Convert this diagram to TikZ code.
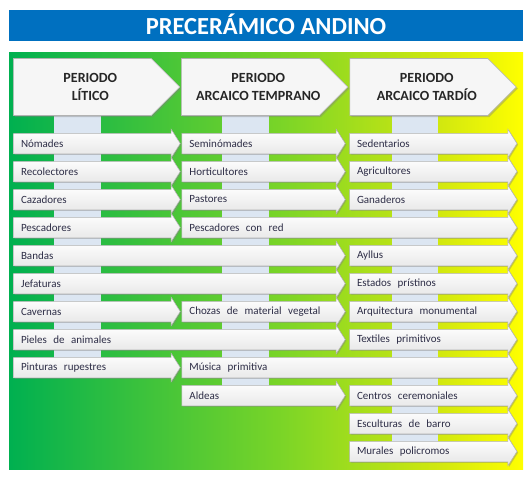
\documentclass[tikz,border=0pt]{standalone}
\usepackage{fontspec}
\setmainfont{Carlito}
\newfontfamily\itemfont[WordSpace=2.6]{Carlito}
\usetikzlibrary{positioning,shapes.arrows,shapes.symbols,shadows}

\definecolor{titleblue}{RGB}{0,112,192}
\definecolor{stripblue}{RGB}{220,230,242}
\definecolor{itemink}{RGB}{45,45,70}
\definecolor{panelgreen}{RGB}{0,176,80}
\definecolor{panellime}{RGB}{120,212,40}
\definecolor{panelchart}{RGB}{210,232,15}
\definecolor{panelyellow}{RGB}{255,255,0}
\pgfdeclarehorizontalshading{panelshade}{100bp}{color(0bp)=(panelgreen); color(25bp)=(panelgreen); color(51bp)=(panellime); color(67bp)=(panelchart); color(75bp)=(panelyellow); color(100bp)=(panelyellow)}

\begin{document}
\begin{tikzpicture}[x=1pt,y=-1pt,
    period/.style={signal,signal to=east,minimum width=166.5pt,minimum height=57pt,inner sep=0pt,
        anchor=west,fill=gray!7,draw=gray!60,line width=0.6pt,
        drop shadow={shadow xshift=1.5pt,shadow yshift=-1.5pt,opacity=0.4}},
    periodtext/.style={inner sep=0pt,align=center,text=black!85,font=\fontsize{14}{17.3}\selectfont\bfseries},
    itemarrow/.style={single arrow,single arrow head extend=4pt,single arrow tip angle=115,
        minimum width=28pt,inner xsep=0pt,inner ysep=10pt,anchor=tail,top color=white,bottom color=gray!20,
        draw=gray!60,line width=0.5pt,
        drop shadow={shadow xshift=1.2pt,shadow yshift=-1.2pt,opacity=0.4}},
    itemtext/.style={inner sep=0pt,text=itemink,font=\itemfont\fontsize{11}{13}\selectfont}]

        \useasboundingbox (0,0) rectangle (532,480);
        \fill[white] (0,0) rectangle (532,480);

        % Title bar
        \fill[titleblue] (9,9.5) rectangle (523,40.5);
        \node[inner sep=0pt,anchor=base,text=white,font=\fontsize{24.5}{28}\selectfont\bfseries] (title) at (266,34) {PRECERÁMICO ANDINO};

        % Gradient panel
        \shade[shading=panelshade] (9,52.5) rectangle (523,469.5);

        % Light strips behind the rows
        \fill[stripblue] (54,115) rectangle (100.5,367.5);
        \fill[stripblue] (222,115) rectangle (268.5,395.5);
        \fill[stripblue] (391.5,115) rectangle (438,451.5);

        % Periods
        \node[period] (litico) at (13,87) {};
        \node[periodtext] (liticoT) at ([xshift=8pt]litico.center) {PERIODO\\LÍTICO};
        \node[period] (temprano) at (181,87) {};
        \node[periodtext] (tempranoT) at ([xshift=8pt]temprano.center) {PERIODO\\ARCAICO TEMPRANO};
        \node[period] (tardio) at (349.5,87) {};
        \node[periodtext] (tardioT) at ([xshift=8pt]tardio.center) {PERIODO\\ARCAICO TARDÍO};

        % Row 1
        \node[itemarrow,minimum height=166.7pt] (nomades) at (13.3,143.5) {};
        \node[itemtext,right=7.5pt of nomades.tail] (nomadesT) {Nómades};
        \node[itemarrow,minimum height=163.3pt] (seminomades) at (181.7,143.5) {};
        \node[itemtext,right=7.5pt of seminomades.tail] (seminomadesT) {Seminómades};
        \node[itemarrow,minimum height=167.4pt] (sedentarios) at (349.3,143.5) {};
        \node[itemtext,right=7.5pt of sedentarios.tail] (sedentariosT) {Sedentarios};

        % Row 2
        \node[itemarrow,minimum height=166.7pt] (recolectores) at (13.3,171.5) {};
        \node[itemtext,right=7.5pt of recolectores.tail] (recolectoresT) {Recolectores};
        \node[itemarrow,minimum height=163.3pt] (horticultores) at (181.7,171.5) {};
        \node[itemtext,right=7.5pt of horticultores.tail] (horticultoresT) {Horticultores};
        \node[itemarrow,minimum height=167.4pt] (agricultores) at (349.3,171.5) {};
        \node[itemtext,right=7.5pt of agricultores.tail] (agricultoresT) {Agricultores};

        % Row 3
        \node[itemarrow,minimum height=166.7pt] (cazadores) at (13.3,199.5) {};
        \node[itemtext,right=7.5pt of cazadores.tail] (cazadoresT) {Cazadores};
        \node[itemarrow,minimum height=163.3pt] (pastores) at (181.7,199.5) {};
        \node[itemtext,right=7.5pt of pastores.tail] (pastoresT) {Pastores};
        \node[itemarrow,minimum height=167.4pt] (ganaderos) at (349.3,199.5) {};
        \node[itemtext,right=7.5pt of ganaderos.tail] (ganaderosT) {Ganaderos};

        % Row 4
        \node[itemarrow,minimum height=166.7pt] (pescadores) at (13.3,227.5) {};
        \node[itemtext,right=7.5pt of pescadores.tail] (pescadoresT) {Pescadores};
        \node[itemarrow,minimum height=335pt] (pescadoresred) at (181.7,227.5) {};
        \node[itemtext,right=7.5pt of pescadoresred.tail] (pescadoresredT) {Pescadores con red};

        % Row 5
        \node[itemarrow,minimum height=331.7pt] (bandas) at (13.3,255.5) {};
        \node[itemtext,right=7.5pt of bandas.tail] (bandasT) {Bandas};
        \node[itemarrow,minimum height=167.4pt] (ayllus) at (349.3,255.5) {};
        \node[itemtext,right=7.5pt of ayllus.tail] (ayllusT) {Ayllus};

        % Row 6
        \node[itemarrow,minimum height=331.7pt] (jefaturas) at (13.3,283.5) {};
        \node[itemtext,right=7.5pt of jefaturas.tail] (jefaturasT) {Jefaturas};
        \node[itemarrow,minimum height=167.4pt] (estados) at (349.3,283.5) {};
        \node[itemtext,right=7.5pt of estados.tail] (estadosT) {Estados prístinos};

        % Row 7
        \node[itemarrow,minimum height=166.7pt] (cavernas) at (13.3,311.5) {};
        \node[itemtext,right=7.5pt of cavernas.tail] (cavernasT) {Cavernas};
        \node[itemarrow,minimum height=163.3pt] (chozas) at (181.7,311.5) {};
        \node[itemtext,right=7.5pt of chozas.tail] (chozasT) {Chozas de material vegetal};
        \node[itemarrow,minimum height=167.4pt] (arquitectura) at (349.3,311.5) {};
        \node[itemtext,right=7.5pt of arquitectura.tail] (arquitecturaT) {Arquitectura monumental};

        % Row 8
        \node[itemarrow,minimum height=331.7pt] (pieles) at (13.3,339.5) {};
        \node[itemtext,right=7.5pt of pieles.tail] (pielesT) {Pieles de animales};
        \node[itemarrow,minimum height=167.4pt] (textiles) at (349.3,339.5) {};
        \node[itemtext,right=7.5pt of textiles.tail] (textilesT) {Textiles primitivos};

        % Row 9
        \node[itemarrow,minimum height=166.7pt] (pinturas) at (13.3,367.5) {};
        \node[itemtext,right=7.5pt of pinturas.tail] (pinturasT) {Pinturas rupestres};
        \node[itemarrow,minimum height=335pt] (musica) at (181.7,367.5) {};
        \node[itemtext,right=7.5pt of musica.tail] (musicaT) {Música primitiva};

        % Row 10
        \node[itemarrow,minimum height=163.3pt] (aldeas) at (181.7,395.5) {};
        \node[itemtext,right=7.5pt of aldeas.tail] (aldeasT) {Aldeas};
        \node[itemarrow,minimum height=167.4pt] (centros) at (349.3,395.5) {};
        \node[itemtext,right=7.5pt of centros.tail] (centrosT) {Centros ceremoniales};

        % Rows 11 and 12
        \node[itemarrow,minimum height=167.4pt] (esculturas) at (349.3,423.5) {};
        \node[itemtext,right=7.5pt of esculturas.tail] (esculturasT) {Esculturas de barro};
        \node[itemarrow,minimum height=167.4pt] (murales) at (349.3,451.5) {};
        \node[itemtext,right=7.5pt of murales.tail] (muralesT) {Murales policromos};

\end{tikzpicture}
\end{document}
